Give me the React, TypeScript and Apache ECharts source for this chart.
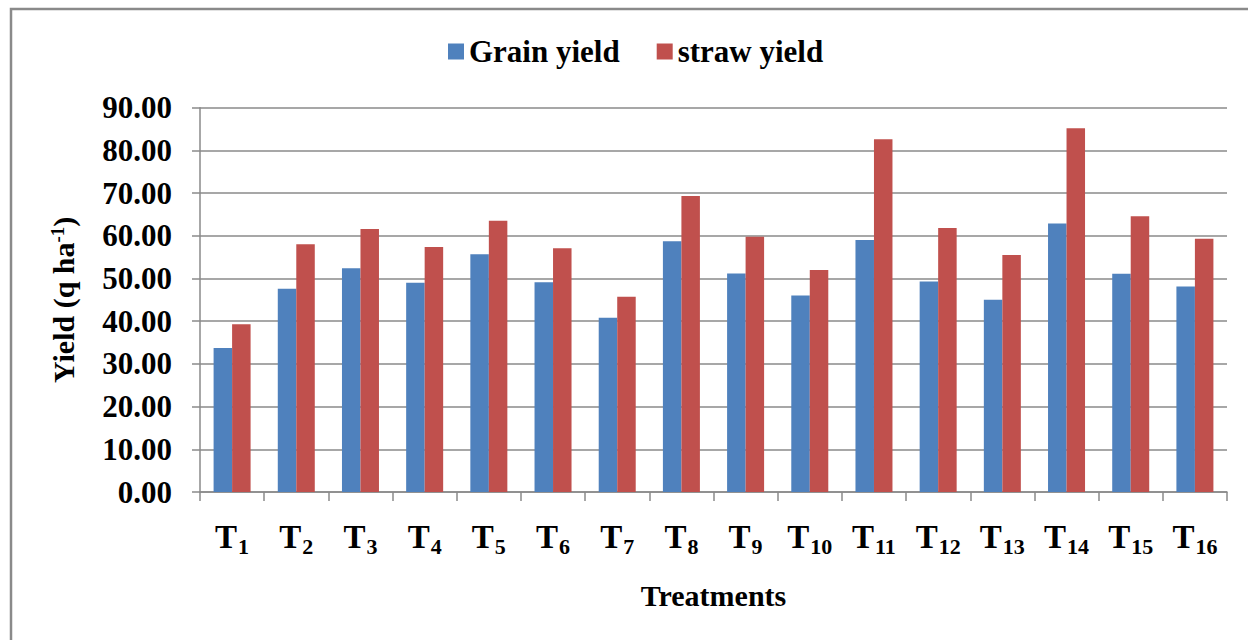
import React, { useEffect, useRef } from "react";
import * as echarts from "echarts";

const categories = ["T1", "T2", "T3", "T4", "T5", "T6", "T7", "T8", "T9", "T10", "T11", "T12", "T13", "T14", "T15", "T16"];
const grainYield = [33.7, 47.6, 52.4, 49.0, 55.7, 49.1, 40.8, 58.7, 51.2, 46.0, 59.0, 49.3, 45.0, 62.9, 51.1, 48.1];
const strawYield = [39.3, 58.0, 61.6, 57.4, 63.5, 57.1, 45.7, 69.3, 59.8, 52.0, 82.6, 61.8, 55.5, 85.2, 64.6, 59.3];
const yTicks = { min: 0, max: 90, interval: 10 };

const SERIF = "'Liberation Serif', 'Times New Roman', serif";
const GRAY = "#8a8a8a";

export default function App() {
  const ref = useRef<HTMLDivElement>(null);
  useEffect(() => {
    if (!ref.current) return;
    const chart = echarts.init(ref.current, null, { renderer: "svg" });
    chart.setOption({
      animation: false,
      backgroundColor: "#ffffff",
      textStyle: { fontFamily: SERIF },
      graphic: [
        {
          type: "rect",
          shape: { x: 11, y: 9, width: 1300, height: 700 },
          style: { fill: "none", stroke: GRAY, lineWidth: 2.5 },
          silent: true,
        },
      ],
      legend: {
        left: 443,
        top: 31,
        itemWidth: 16,
        itemHeight: 16,
        itemGap: 37,
        icon: "rect",
        textStyle: { fontFamily: SERIF, fontWeight: "bold", fontSize: 31, color: "#000", padding: [0, 0, 0, 0] },
        data: ["Grain yield", "straw yield"],
      },
      grid: { left: 200, right: 21, top: 107.7, bottom: 148, containLabel: false },
      xAxis: {
        type: "category",
        data: categories,
        boundaryGap: true,
        name: "Treatments",
        nameLocation: "middle",
        nameGap: 88,
        nameTextStyle: { fontFamily: SERIF, fontWeight: "bold", fontSize: 30, color: "#000" },
        axisLine: { lineStyle: { color: GRAY, width: 1.5 } },
        axisTick: { show: true, length: 9, lineStyle: { color: GRAY, width: 1.5 } },
        axisLabel: {
          interval: 0,
          margin: 28,
          formatter: (v: string) => `{t|T}{s|${v.slice(1)}}`,
          rich: {
            t: { fontFamily: SERIF, fontWeight: "bold", fontSize: 33, color: "#000", verticalAlign: "bottom" },
            s: { fontFamily: SERIF, fontWeight: "bold", fontSize: 22, color: "#000", verticalAlign: "bottom", padding: [0, 0, -4, 1] },
          },
        },
      },
      yAxis: {
        type: "value",
        min: yTicks.min,
        max: yTicks.max,
        interval: yTicks.interval,
        name: "{a|Yield (q ha}{s|-1}{a|)}",
        nameLocation: "middle",
        nameRotate: 90,
        nameGap: 122,
        nameTextStyle: {
          rich: {
            a: { fontFamily: SERIF, fontWeight: "bold", fontSize: 30, color: "#000", verticalAlign: "bottom" },
            s: { fontFamily: SERIF, fontWeight: "bold", fontSize: 19, color: "#000", verticalAlign: "top" },
          },
        },
        axisLine: { show: true, lineStyle: { color: GRAY, width: 1.5 } },
        axisTick: { show: true, length: 8, lineStyle: { color: GRAY, width: 1.5 } },
        splitLine: { show: true, lineStyle: { color: GRAY, width: 1.5 } },
        axisLabel: {
          margin: 28,
          fontFamily: SERIF,
          fontWeight: "bold",
          fontSize: 31,
          color: "#000",
          formatter: (v: number) => v.toFixed(2),
        },
      },
      series: [
        {
          name: "Grain yield",
          type: "bar",
          data: grainYield,
          barWidth: 18.5,
          barGap: "0%",
          itemStyle: { color: "#4F81BD" },
        },
        {
          name: "straw yield",
          type: "bar",
          data: strawYield,
          barWidth: 18.5,
          barGap: "0%",
          itemStyle: { color: "#C0504D" },
        },
      ],
    });
    return () => chart.dispose();
  }, []);
  return (
    <div
      ref={ref}
      style={{ position: "fixed", left: 0, top: 0, width: 1248, height: 640 }}
    />
  );
}
